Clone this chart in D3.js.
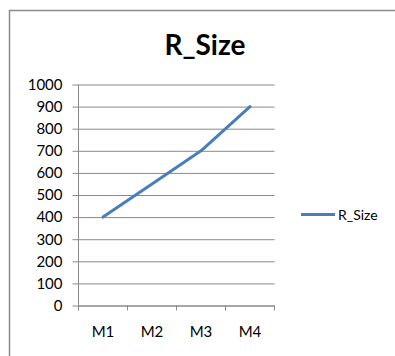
<!DOCTYPE html>
<html>
<head>
<meta charset="utf-8">
<script src="https://cdn.jsdelivr.net/npm/d3@7"></script>
<style>
  html, body { margin: 0; padding: 0; background: #fff; }
  svg { display: block; }
  text { font-family: Lato, "Open Sans", sans-serif; fill: #000; }
</style>
</head>
<body>
<svg id="chart" width="395" height="356"></svg>
<script>
// Chart data
const categories = ["M1", "M2", "M3", "M4"];
const rSize = [400, 550, 700, 900];
const yTicks = [0, 100, 200, 300, 400, 500, 600, 700, 800, 900, 1000];
const seriesName = "R_Size";
const chartTitle = "R_Size";

const svg = d3.select("#chart");

// Chart frame (extends past the right and bottom edges)
svg.append("rect")
  .attr("x", 9.5).attr("y", 10.5)
  .attr("width", 420).attr("height", 400)
  .attr("fill", "#fff")
  .attr("stroke", "#8c8c8c")
  .attr("stroke-width", 1.5);

// Plot area
const plot = { left: 78.5, right: 274.5, top: 84.5, bottom: 305.5 };

const x = d3.scaleBand()
  .domain(categories)
  .range([plot.left, plot.right])
  .paddingInner(0).paddingOuter(0);

const y = d3.scaleLinear()
  .domain([0, 1000])
  .range([plot.bottom, plot.top]);

// Horizontal gridlines with left tick marks
const yAxis = d3.axisLeft(y)
  .tickValues(yTicks)
  .tickSize(-(plot.right - plot.left))
  .tickSizeOuter(0)
  .tickFormat(d3.format("d"))
  .tickPadding(16);

const gy = svg.append("g")
  .attr("transform", `translate(${plot.left},0)`)
  .call(yAxis);
gy.select(".domain").remove();
gy.selectAll(".tick line")
  .attr("x1", -6)
  .attr("stroke", "#8a8a8a")
  .attr("stroke-width", 1);
gy.selectAll(".tick text")
  .attr("x", -16)
  .style("font-size", "15px")
  .style("font-family", "Lato, 'Open Sans', sans-serif")
  .attr("fill", "#000");

// Vertical axis line
svg.append("line")
  .attr("x1", plot.left).attr("x2", plot.left)
  .attr("y1", plot.top).attr("y2", plot.bottom + 5)
  .attr("stroke", "#8a8a8a").attr("stroke-width", 1);

// Category axis with boundary tick marks
const xAxis = d3.axisBottom(x).tickSize(0).tickPadding(21);
const gx = svg.append("g")
  .attr("transform", `translate(0,${plot.bottom})`)
  .call(xAxis);
gx.select(".domain").attr("stroke", "#8a8a8a");
gx.selectAll(".tick text")
  .style("font-size", "15px")
  .style("font-family", "Lato, 'Open Sans', sans-serif")
  .attr("fill", "#000");

const boundaries = categories.map(c => x(c)).concat([x(categories[categories.length - 1]) + x.bandwidth()]);
svg.append("g").selectAll("line")
  .data(boundaries)
  .join("line")
  .attr("x1", d => d).attr("x2", d => d)
  .attr("y1", plot.bottom).attr("y2", plot.bottom + 5)
  .attr("stroke", "#8a8a8a").attr("stroke-width", 1);

// Series line
const line = d3.line()
  .x((d, i) => x(categories[i]) + x.bandwidth() / 2)
  .y(d => y(d));

svg.append("path")
  .datum(rSize)
  .attr("d", line)
  .attr("fill", "none")
  .attr("stroke", "#4a7ebb")
  .attr("stroke-width", 3)
  .attr("stroke-linejoin", "round")
  .attr("stroke-linecap", "round");

// Title
svg.append("text")
  .attr("x", 205).attr("y", 55)
  .attr("text-anchor", "middle")
  .style("font-size", "28px")
  .style("font-weight", "bold")
  .text(chartTitle);

// Legend
svg.append("line")
  .attr("x1", 301).attr("x2", 335)
  .attr("y1", 214.5).attr("y2", 214.5)
  .attr("stroke", "#4a7ebb")
  .attr("stroke-width", 3);
svg.append("text")
  .attr("x", 338).attr("y", 219.5)
  .style("font-size", "14px")
  .text(seriesName);
</script>
</body>
</html>
